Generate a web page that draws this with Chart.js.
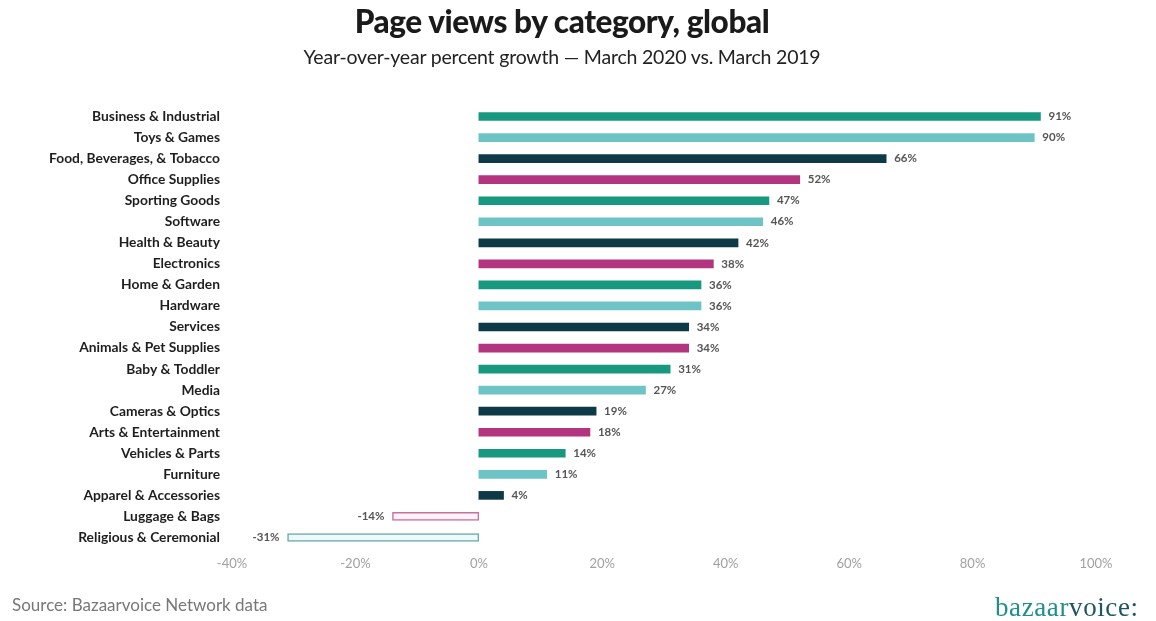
<!DOCTYPE html>
<html><head><meta charset="utf-8">
<script src="https://cdn.jsdelivr.net/npm/chart.js@4/dist/chart.umd.min.js"></script>
<style>
html,body{margin:0;padding:0;background:#fff;}
#wrap{position:relative;width:1156px;height:621px;overflow:hidden;}
#title{position:absolute;left:0;width:1124px;top:2px;text-align:center;font-family:Lato,sans-serif;font-weight:900;font-size:31.5px;color:#1a1a1a;letter-spacing:-0.4px;}
#sub{position:absolute;left:0;width:1124px;top:45px;text-align:center;font-family:Lato,sans-serif;font-size:19.5px;color:#222;letter-spacing:-0.2px;}
#src{position:absolute;left:12px;top:594px;font-family:Lato,sans-serif;font-size:17px;color:#777;}
#logo{position:absolute;left:995px;top:592px;font-family:"Liberation Serif",serif;font-size:27px;color:#1f8f8a;letter-spacing:0.6px;}
#logo span{color:#1d5560;}
canvas{position:absolute;left:0;top:0;}
</style></head>
<body><div id="wrap">
<canvas id="c" width="1156" height="621"></canvas>
<div id="title">Page views by category, global</div>
<div id="sub">Year-over-year percent growth — March 2020 vs. March 2019</div>
<div id="src">Source: Bazaarvoice Network data</div>
<div id="logo">bazaar<span>voice:</span></div>
</div>
<script>
const categories = ["Business & Industrial","Toys & Games","Food, Beverages, & Tobacco","Office Supplies","Sporting Goods","Software","Health & Beauty","Electronics","Home & Garden","Hardware","Services","Animals & Pet Supplies","Baby & Toddler","Media","Cameras & Optics","Arts & Entertainment","Vehicles & Parts","Furniture","Apparel & Accessories","Luggage & Bags","Religious & Ceremonial"];
const growth = [91,90,66,52,47,46,42,38,36,36,34,34,31,27,19,18,14,11,4,-14,-31];
const xTicks = [-40,-20,0,20,40,60,80,100];

const palette = ["#17987f","#6ec3c5","#0e3a48","#b3347f"];
const fills = growth.map((v,i)=> v<0 ? (i%4===3 ? "#fdf3f8" : "#eefafa") : palette[i%4]);
const borders = growth.map((v,i)=> v<0 ? (i%4===3 ? "#c9709f" : "#6fa9ab") : palette[i%4]);

const labelPlugin = {
  id:'valLabels',
  afterDatasetsDraw(chart){
    const ctx = chart.ctx;
    const meta = chart.getDatasetMeta(0);
    ctx.save();
    ctx.font = "bold 11.5px Lato, sans-serif";
    ctx.fillStyle = "#555";
    ctx.textBaseline = "middle";
    meta.data.forEach((bar,i)=>{
      const v = growth[i];
      if(v>=0){ ctx.textAlign="left"; ctx.fillText(v+"%", bar.x+8, bar.y); }
      else { ctx.textAlign="right"; ctx.fillText(v+"%", bar.x-8, bar.y); }
    });
    ctx.restore();
  }
};

new Chart(document.getElementById('c'),{
  type:'bar',
  data:{labels:categories,datasets:[{data:growth,backgroundColor:fills,borderColor:borders,borderWidth:growth.map(v=>v<0?1.5:0),barThickness:8,borderSkipped:false}]},
  options:{
    indexAxis:'y',responsive:false,animation:false,
    layout:{padding:{left:0,right:60,top:106,bottom:48}},
    plugins:{legend:{display:false},tooltip:{enabled:false}},
    scales:{
      x:{min:-40,max:100,grid:{display:false,drawTicks:false},border:{display:false},
         afterBuildTicks(s){s.ticks=xTicks.map(v=>({value:v}));},
         afterFit(s){s.height=25;},
         ticks:{padding:8,color:"#a0a0a0",font:{family:"Lato",size:13},callback:v=>v+"%"}},
      y:{grid:{display:false,drawTicks:false},border:{display:false},
         afterFit(s){s.width=232;},
         ticks:{padding:12,color:"#1e1e1e",font:{family:"Lato",weight:"bold",size:13.8}}}
    }
  },
  plugins:[labelPlugin]
});
</script></body></html>
